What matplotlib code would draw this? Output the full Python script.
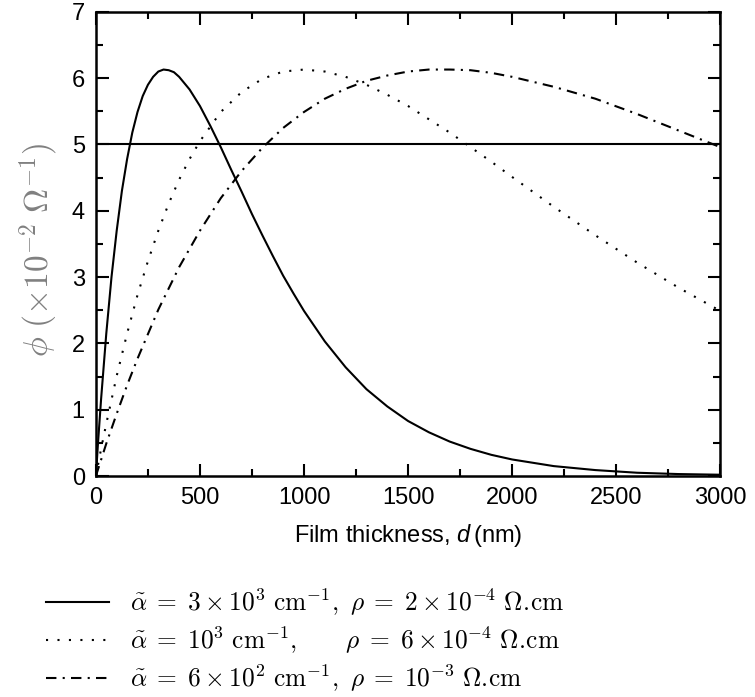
import numpy as np
import matplotlib.pyplot as plt
from matplotlib.ticker import MultipleLocator

plt.rcParams['font.family'] = ['Liberation Sans', 'DejaVu Sans']
plt.rcParams['mathtext.fontset'] = 'custom'
plt.rcParams['mathtext.it'] = 'Liberation Sans:italic'
plt.rcParams['mathtext.rm'] = 'Liberation Sans'

# Кривые (phi в единицах 1e-2 Ом^-1)
d_solid = [0, 10, 25, 50, 75, 100, 125, 150, 175, 200, 225, 250, 275, 300, 325,
           350, 375, 400, 450, 500, 550, 600, 650, 700, 750, 800, 850, 900, 950,
           1000, 1100, 1200, 1300, 1400, 1500, 1600, 1700, 1800, 1900, 2000,
           2200, 2400, 2600, 2800, 3000]
phi_solid = [0, 0.49, 1.16, 2.15, 3.00, 3.70, 4.30, 4.78, 5.18, 5.49, 5.73, 5.90,
             6.02, 6.10, 6.13, 6.12, 6.09, 6.02, 5.83, 5.58, 5.28, 4.96, 4.62,
             4.29, 3.95, 3.63, 3.32, 3.02, 2.75, 2.49, 2.03, 1.64, 1.31, 1.05,
             0.83, 0.66, 0.52, 0.41, 0.32, 0.25, 0.15, 0.09, 0.05, 0.03, 0.02]

d_dot = [0, 25, 50, 100, 150, 200, 250, 300, 350, 400, 450, 500, 600, 700, 800,
         900, 1000, 1100, 1200, 1300, 1400, 1500, 1600, 1700, 1800, 1900, 2000,
         2200, 2400, 2600, 2800, 3000]
phi_dot = [0, 0.41, 0.79, 1.51, 2.15, 2.73, 3.24, 3.70, 4.11, 4.47, 4.78, 5.05,
           5.49, 5.79, 5.99, 6.10, 6.13, 6.10, 6.02, 5.90, 5.75, 5.58, 5.38,
           5.18, 4.96, 4.74, 4.51, 4.06, 3.63, 3.22, 2.84, 2.49]

d_dashdot = [0, 50, 100, 150, 200, 300, 400, 500, 600, 700, 800, 900, 1000,
             1100, 1200, 1300, 1400, 1500, 1600, 1700, 1800, 1900, 2000, 2200,
             2400, 2600, 2800, 3000]
phi_dashdot = [0, 0.49, 0.94, 1.37, 1.77, 2.51, 3.15, 3.70, 4.19, 4.60, 4.95,
               5.25, 5.49, 5.69, 5.84, 5.96, 6.04, 6.10, 6.13, 6.13, 6.12, 6.08,
               6.02, 5.87, 5.69, 5.46, 5.21, 4.96]

phi_ref = 5.0

labels = [
    r"$\tilde{\alpha}\;=\;3\times10^{3}\ \mathrm{cm}^{-1},\ \rho\;=\;2\times10^{-4}\ \Omega.\!\mathrm{cm}$",
    r"$\tilde{\alpha}\;=\;10^{3}\ \mathrm{cm}^{-1},\qquad\rho\;=\;6\times10^{-4}\ \Omega.\!\mathrm{cm}$",
    r"$\tilde{\alpha}\;=\;6\times10^{2}\ \mathrm{cm}^{-1},\ \rho\;=\;10^{-3}\ \Omega.\!\mathrm{cm}$",
]

fig = plt.figure(figsize=(7.55, 6.97), dpi=100)
ax = fig.add_axes([0.127, 0.317, 0.827, 0.666])

l1, = ax.plot(d_solid, phi_solid, color='black', lw=1.5, label=labels[0])
l2, = ax.plot(d_dot, phi_dot, color='black', lw=1.5, linestyle=(0, (1, 4.5)), label=labels[1])
l3, = ax.plot(d_dashdot, phi_dashdot, color='black', lw=1.5,
              linestyle=(0, (5, 3, 1, 3)), label=labels[2])
ax.axhline(phi_ref, color='black', lw=1.5)

ax.set_xlim(0, 3000)
ax.set_ylim(0, 7)
ax.xaxis.set_major_locator(MultipleLocator(500))
ax.xaxis.set_minor_locator(MultipleLocator(250))
ax.yaxis.set_major_locator(MultipleLocator(1))
ax.yaxis.set_minor_locator(MultipleLocator(0.5))
ax.tick_params(which='both', direction='in', top=True, right=True, labelsize=17,
               width=1.5, pad=8)
ax.tick_params(which='major', length=9)
ax.tick_params(which='minor', length=5)
for s in ax.spines.values():
    s.set_linewidth(1.8)

ax.set_xlabel(r"Film thickness, $d\,$(nm)", fontsize=17, labelpad=9)

fig.text(39 / 755, 1 - 250 / 697, r"$\phi\ (\times10^{-2}\ \Omega^{-1})$", rotation=90,
         ha='center', va='center', fontsize=24, color='#808080', math_fontfamily='cm')

leg = fig.legend(handles=[l1, l2, l3], loc='upper left', bbox_to_anchor=(0.047, 0.173),
                 frameon=False, fontsize=18.3, handlelength=2.5, handletextpad=0.8,
                 labelspacing=0.28, borderaxespad=0)
for t in leg.get_texts():
    t.set_math_fontfamily('cm')

fig.savefig('out.png', dpi=100)
